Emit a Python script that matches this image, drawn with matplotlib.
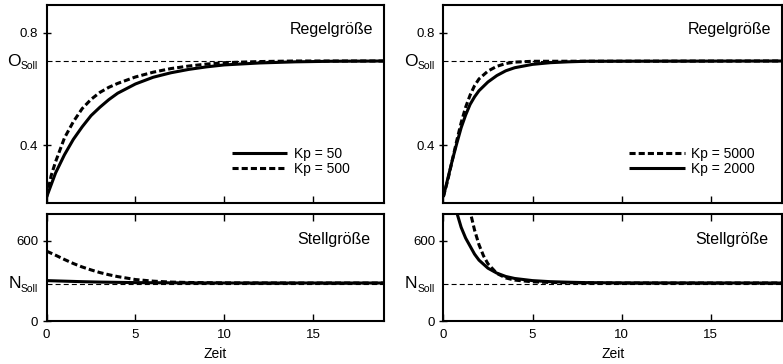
import matplotlib
matplotlib.use("Agg")
import matplotlib.pyplot as plt
import matplotlib.transforms as mtransforms

plt.rcParams['font.family'] = ['Liberation Sans', 'DejaVu Sans']

# Sollwerte
o_soll = 0.70
n_soll = 280

# linke Seite: Kp = 50 (durchgezogen), Kp = 500 (gestrichelt)
t_l50 = [0, 0.5, 1, 1.5, 2, 2.5, 3, 3.5, 4, 5, 6, 7, 8, 9, 10, 12, 14, 16, 19]
o_l50 = [0.215, 0.30, 0.365, 0.42, 0.465, 0.505, 0.535, 0.562, 0.585, 0.618, 0.642, 0.658, 0.670, 0.679, 0.686, 0.693, 0.697, 0.699, 0.70]
t_l500 = [0, 0.25, 0.5, 1, 1.5, 2, 2.5, 3, 3.5, 4, 5, 6, 7, 8, 9, 10, 12, 14, 19]
o_l500 = [0.215, 0.29, 0.34, 0.425, 0.483, 0.53, 0.563, 0.588, 0.606, 0.620, 0.643, 0.660, 0.673, 0.682, 0.689, 0.694, 0.698, 0.70, 0.70]

n_l50_t = [0, 1, 2, 3, 4, 5, 6, 8, 10, 14, 19]
n_l50 = [302, 298, 294, 291, 289, 287, 286, 285, 284, 284, 284]
n_l500_t = [0, 0.5, 1, 1.5, 2, 2.5, 3, 3.5, 4, 5, 6, 7, 8, 10, 14, 19]
n_l500 = [522, 492, 460, 430, 404, 382, 362, 346, 332, 310, 298, 291, 288, 285, 284, 284]

# rechte Seite: Kp = 5000 (gestrichelt), Kp = 2000 (durchgezogen)
t_r5000 = [0, 0.25, 0.5, 0.75, 1, 1.25, 1.5, 1.75, 2, 2.5, 3, 3.5, 4, 5, 19]
o_r5000 = [0.215, 0.275, 0.345, 0.415, 0.48, 0.535, 0.578, 0.612, 0.636, 0.664, 0.681, 0.691, 0.696, 0.699, 0.70]
t_r2000 = [0, 0.25, 0.5, 0.75, 1, 1.25, 1.5, 1.75, 2, 2.5, 3, 3.5, 4, 5, 6, 7, 8, 19]
o_r2000 = [0.215, 0.28, 0.345, 0.405, 0.462, 0.507, 0.545, 0.572, 0.594, 0.625, 0.648, 0.665, 0.676, 0.688, 0.694, 0.697, 0.699, 0.70]

n_r5000_t = [1.2, 1.5, 1.75, 2, 2.25, 2.5, 3, 3.5, 4, 5, 6, 8, 10, 19]
n_r5000 = [1050, 820, 680, 570, 488, 428, 356, 322, 306, 293, 288, 285, 284, 284]
n_r2000_t = [0.4, 0.6, 0.8, 1, 1.25, 1.5, 1.75, 2, 2.5, 3, 3.5, 4, 5, 6, 7, 8, 10, 19]
n_r2000 = [1050, 900, 790, 700, 620, 560, 500, 455, 395, 358, 333, 318, 302, 294, 290, 287, 285, 284]

x_ticks = [0, 5, 10, 15]
x_max = 19

fig = plt.figure(figsize=(7.83, 3.64), dpi=100)

ax_tl = fig.add_axes([0.0596, 0.4423, 0.4308, 0.5440])
ax_bl = fig.add_axes([0.0596, 0.1181, 0.4308, 0.2940])
ax_tr = fig.add_axes([0.5662, 0.4423, 0.4328, 0.5440])
ax_br = fig.add_axes([0.5662, 0.1181, 0.4328, 0.2940])

thick = dict(color='black', lw=2.2, solid_capstyle='butt')
dash = dict(color='black', lw=2.2, dashes=(2, 1))
ref = dict(color='black', lw=0.8, dashes=(4.5, 2.8))


def soll_label(ax, letter, y):
    tr = mtransforms.blended_transform_factory(ax.transAxes, ax.transData)
    ax.annotate(letter, xy=(0, y), xycoords=tr, xytext=(-26, 0), textcoords='offset pixels',
                ha='right', va='center', fontsize=12.5)
    ax.annotate('Soll', xy=(0, y), xycoords=tr, xytext=(-26, -5), textcoords='offset pixels',
                ha='left', va='center', fontsize=7.5)


def style(ax, top):
    for s in ax.spines.values():
        s.set_linewidth(1.5)
    ax.set_xlim(0, x_max)
    ax.set_xticks(x_ticks)
    if top:
        ax.set_ylim(0.193, 0.9)
        ax.set_yticks([0.4, 0.8])
        ax.set_yticklabels(['0.4', '0.8'])
        ax.tick_params(axis='x', direction='in', length=5, width=1, labelbottom=False)
        soll_label(ax, 'O', o_soll)
        ax.axhline(o_soll, **ref)
        ax.text(0.968, 0.874, 'Regelgröße', transform=ax.transAxes, ha='right', va='center', fontsize=11.5)
    else:
        ax.set_ylim(0, 800)
        ax.set_yticks([0, 600])
        ax.tick_params(axis='x', direction='in', length=5, width=1, top=True, labelsize=9.5, pad=6)
        soll_label(ax, 'N', n_soll)
        ax.axhline(n_soll, **ref)
        ax.text(0.96, 0.766, 'Stellgröße', transform=ax.transAxes, ha='right', va='center', fontsize=11.5)
        ax.set_xlabel('Zeit', fontsize=10, labelpad=4)
    ax.tick_params(axis='y', direction='inout', length=6, width=1, labelsize=9.5, pad=3)


for ax, top in [(ax_tl, True), (ax_bl, False), (ax_tr, True), (ax_br, False)]:
    style(ax, top)

leg_kw = dict(loc='lower left', bbox_to_anchor=(0.528, 0.1), frameon=False, fontsize=10,
              handlelength=4.0, handletextpad=0.45, labelspacing=0.1, borderpad=0)

# links
ax_tl.plot(t_l50, o_l50, label='Kp = 50', **thick)
ax_tl.plot(t_l500, o_l500, label='Kp = 500', **dash)
ax_tl.legend(**leg_kw)

ax_bl.plot(n_l50_t, n_l50, **thick)
ax_bl.plot(n_l500_t, n_l500, **dash)

# rechts
ax_tr.plot(t_r5000, o_r5000, label='Kp = 5000', **dash)
ax_tr.plot(t_r2000, o_r2000, label='Kp = 2000', **thick)
ax_tr.legend(**leg_kw)

ax_br.plot(n_r2000_t, n_r2000, **thick)
ax_br.plot(n_r5000_t, n_r5000, **dash)

fig.savefig('out.png', dpi=100)
